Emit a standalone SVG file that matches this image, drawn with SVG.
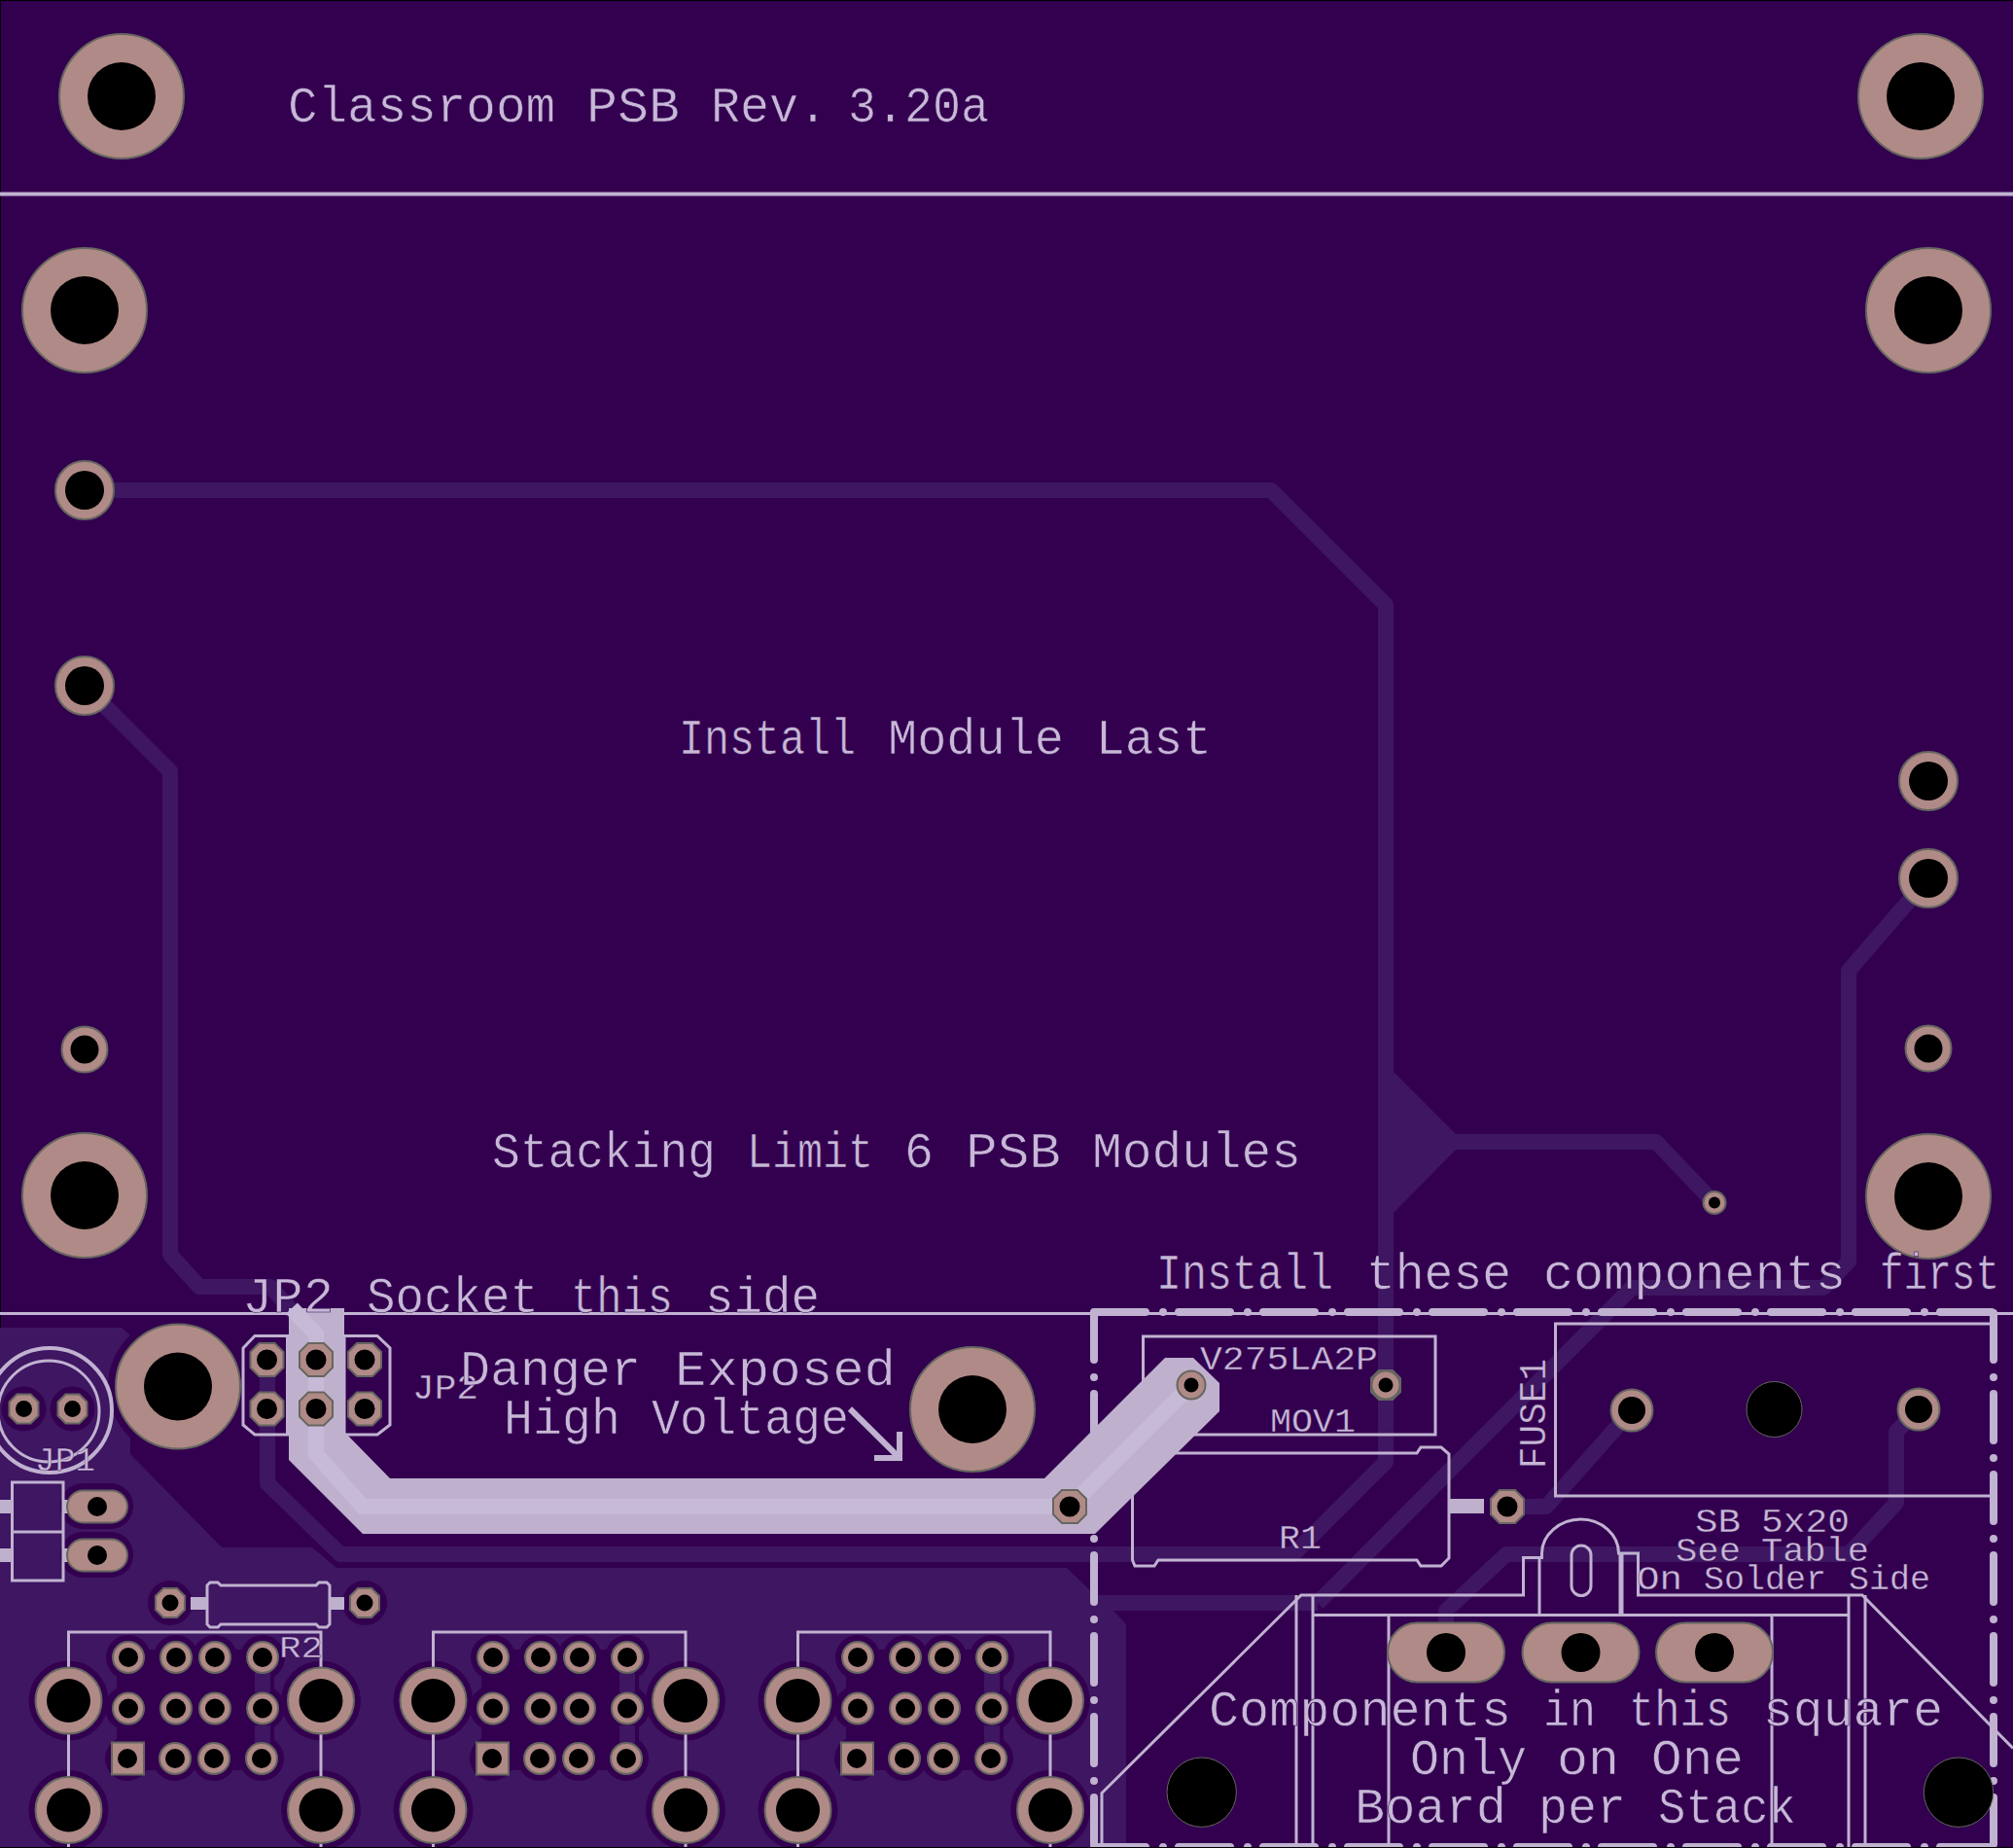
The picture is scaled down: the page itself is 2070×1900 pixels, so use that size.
<svg xmlns="http://www.w3.org/2000/svg" xmlns:xlink="http://www.w3.org/1999/xlink" width="2070" height="1900" viewBox="0 0 2070 1900">
<style>
.bg{fill:#330050}
.cu{fill:#3e1662}
.tr{fill:none;stroke:#3e1662;stroke-width:16;stroke-linejoin:round}
.halo{fill:#330050}
.sl{fill:none;stroke:#c0b2d0;stroke-width:3}
.sf{fill:#bfb1cd}
.pad{fill:#b08a86;stroke:#666660;stroke-width:2}
.hole{fill:#000}
.hr{fill:#000;stroke:#666660;stroke-width:1}
.t{font-family:"Liberation Mono",monospace;fill:#c6b8d6;stroke:#330050;stroke-width:.6}
.l{font-size:52px}
.s{font-size:35px;stroke-width:.3}
.dh{fill:none;stroke:#c0b2d0;stroke-width:8;stroke-linecap:round;stroke-dasharray:53 18 0 16}
.dv{fill:none;stroke:#c0b2d0;stroke-width:8;stroke-linecap:round;stroke-dasharray:48 18 0 17}
</style>
<defs>
<g id="bigpad"><circle r="64" class="pad"/><circle r="35" class="hole"/></g>
<g id="midpad"><circle r="30" class="pad"/><circle r="20" class="hole"/></g>
<g id="tinypad"><circle r="23.5" class="pad"/><circle r="14.5" class="hole"/></g>
<g id="octa"><polygon points="-17,-8 -8,-17 8,-17 17,-8 17,8 8,17 -8,17 -17,8" class="pad"/><circle r="10.5" class="hole"/></g>
<g id="octb"><polygon points="-15,-7 -7,-15 7,-15 15,-7 15,7 7,15 -7,15 -15,7" class="pad"/><circle r="8.5" class="hole"/></g>
<g id="pin"><circle r="16" class="pad"/><circle r="10" class="hole"/></g>
<g id="mount"><circle r="34" class="pad"/><circle r="22.5" class="hole"/></g>
<g id="oval"><rect x="-60" y="-30.5" width="120" height="61" rx="30.5" class="pad"/><circle r="20" class="hole"/></g>
<g id="oval2"><rect x="-31" y="-16.5" width="62" height="33" rx="16.5" class="pad"/><circle r="10" class="hole"/></g>
<g id="connector">
<rect x="120" y="1696" width="162" height="124" class="halo"/>
<g class="halo">
<circle cx="132" cy="1704" r="23"/><circle cx="181" cy="1704" r="23"/><circle cx="221" cy="1704" r="23"/><circle cx="270" cy="1704" r="23"/>
<circle cx="131" cy="1756" r="23"/><circle cx="270" cy="1756" r="23"/>
<circle cx="131" cy="1808" r="23"/><circle cx="180" cy="1808" r="23"/><circle cx="220" cy="1808" r="23"/><circle cx="269" cy="1808" r="23"/>
<circle cx="70.5" cy="1748.5" r="41"/><circle cx="330" cy="1748.5" r="41"/><circle cx="70.5" cy="1861" r="41"/><circle cx="330" cy="1861" r="41"/>
</g>
<rect x="262" y="1718" width="16" height="22" class="cu"/>
<rect x="262" y="1774" width="16" height="20" class="cu"/>
<polyline points="70.5,1900 70.5,1678 330,1678 330,1900" class="sl"/>
<use xlink:href="#mount" x="70.5" y="1748.5"/><use xlink:href="#mount" x="330" y="1748.5"/><use xlink:href="#mount" x="70.5" y="1861"/><use xlink:href="#mount" x="330" y="1861"/>
<use xlink:href="#pin" x="132" y="1704"/><use xlink:href="#pin" x="181" y="1704"/><use xlink:href="#pin" x="221" y="1704"/><use xlink:href="#pin" x="270" y="1704"/>
<use xlink:href="#pin" x="132" y="1756.5"/><use xlink:href="#pin" x="181" y="1756.5"/><use xlink:href="#pin" x="221" y="1756.5"/><use xlink:href="#pin" x="270" y="1756.5"/>
<rect x="115" y="1791.5" width="33" height="33" class="pad"/><circle cx="131" cy="1808" r="10" class="hole"/>
<use xlink:href="#pin" x="180" y="1808"/><use xlink:href="#pin" x="220" y="1808"/><use xlink:href="#pin" x="269" y="1808"/>
</g>
</defs>

<rect width="2070" height="1900" fill="#000"/>
<rect x="1" y="1" width="2069" height="1898" class="bg"/>

<g id="copper">
<polygon class="cu" points="0,1365 125,1365 134,1373 134,1495 228,1591 321,1591 346,1612 1097,1612 1126,1640 1355,1640 1355,1656 1145,1656 1158,1670 1158,1899 0,1899"/>
<polygon class="cu" points="1433,1102 1497,1166 1497,1182 1433,1247"/>
</g>

<g id="connectors">
<polyline class="tr" points="87,504 1307,504 1425,622 1425,1503 1330,1598 350,1598 275,1525 275,1398"/>
<polyline class="tr" points="87,705 175,793 175,1290 205,1323 278,1323 325,1375"/>
<polyline class="tr" points="1433,1174 1703,1174 1763,1237"/>
<polyline class="tr" points="1983,903 1901,998 1901,1297 1875,1324 1678,1324 1355,1648"/>
<polyline class="tr" points="1678,1450 1590,1549 1550,1549"/>
<polyline class="tr" points="1973,1449 1950,1472 1950,1545 1901,1598 1549,1598 1487,1656 1487,1699"/>
</g>

<g id="halos" class="halo">
<circle cx="183" cy="1425.5" r="72"/>
<circle cx="1000" cy="1449" r="70"/>
<circle cx="24.5" cy="1448.5" r="23"/><circle cx="74.5" cy="1448.5" r="23"/>
<rect x="62" y="1525" width="75" height="47" rx="23"/><rect x="62" y="1575" width="75" height="47" rx="23"/>
<circle cx="175" cy="1648" r="23"/><circle cx="375" cy="1648" r="23"/>
</g>

<g id="silk-lines">
<line x1="0" y1="199.5" x2="2070" y2="199.5" stroke="#c0b2d0" stroke-width="4"/>
<line x1="0" y1="1350.5" x2="2070" y2="1350.5" stroke="#c0b2d0" stroke-width="3"/>
<line x1="1125" y1="1349" x2="2050" y2="1349" class="dh"/>
<line x1="1125" y1="1899" x2="2050" y2="1899" class="dh"/>
<line x1="1125" y1="1350" x2="1125" y2="1900" class="dv"/>
<line x1="2050" y1="1350" x2="2050" y2="1900" class="dv"/>
</g>

<g id="connector-1"><use xlink:href="#connector"/></g>
<g id="connector-2"><use xlink:href="#connector" x="375"/></g>
<g id="connector-3"><use xlink:href="#connector" x="750"/></g>

<g id="JP1">
<circle cx="51" cy="1450" r="64" class="sl" style="stroke-width:4"/>
<circle cx="50" cy="1451" r="52" class="sl"/>
<use xlink:href="#octb" x="24.5" y="1448.5"/><use xlink:href="#octb" x="74.5" y="1448.5"/>
<text x="36" y="1512" class="t s" textLength="62" lengthAdjust="spacingAndGlyphs">JP1</text>
</g>

<g id="switch">
<rect x="12.5" y="1524" width="52.5" height="101" class="sl"/>
<line x1="12.5" y1="1575" x2="65" y2="1575" class="sl"/>
<rect x="0" y="1542" width="12.5" height="14" class="sf"/><rect x="0" y="1592" width="12.5" height="14" class="sf"/>
<rect x="65" y="1542" width="5" height="14" class="sf"/><rect x="65" y="1592" width="5" height="14" class="sf"/>
<use xlink:href="#oval2" x="100" y="1549"/><use xlink:href="#oval2" x="100" y="1599"/>
</g>

<g id="R2">
<polygon points="216,1627 224,1627 227,1630 325,1630 328,1627 336,1627 339,1630 339,1670 336,1673 328,1673 325,1670 227,1670 224,1673 216,1673 213,1670 213,1630" class="sl"/>
<rect x="196" y="1642" width="17" height="13" class="sf"/><rect x="339" y="1642" width="15" height="13" class="sf"/>
<use xlink:href="#octb" x="175" y="1648"/><use xlink:href="#octb" x="375" y="1648"/>
<text x="287" y="1704" class="t s" style="font-size:32px" textLength="45" lengthAdjust="spacingAndGlyphs">R2</text>
</g>

<g id="MOV1">
<rect x="1175.5" y="1374" width="300.5" height="101" class="sl"/>
<text x="1234" y="1408" class="t s" textLength="183" lengthAdjust="spacingAndGlyphs">V275LA2P</text>
<text x="1306" y="1472" class="t s" textLength="88" lengthAdjust="spacingAndGlyphs">MOV1</text>
<use xlink:href="#octb" x="1425" y="1424"/>
</g>

<g id="R1">
<polyline points="1164.5,1530 1164.5,1604 1167,1610 1187,1610 1191,1604 1457,1604 1461,1610 1482,1610 1490,1602 1490,1495 1482,1488 1461,1488 1457,1494 1200,1494" class="sl"/>
<rect x="1490" y="1541" width="36" height="15" class="sf"/>
<text x="1315" y="1592" class="t s" textLength="44" lengthAdjust="spacingAndGlyphs">R1</text>
</g>

<g id="high-voltage-bar">
<polygon class="sf" points="297,1345 354,1345 354,1472 401,1520 1074,1520 1198,1396 1227,1396 1254,1422 1254,1451 1126,1577 373,1577 297,1501"/>
<polyline points="300,1345 325,1372 325,1495 373,1549 1100,1549 1225,1424" fill="none" stroke="#c6bad6" stroke-width="16"/>
</g>

<g id="JP2">
<polygon points="262,1373.5 295.5,1373.5 295.5,1475 262,1475 250,1465 250,1386" class="sl"/>
<polygon points="354,1373.5 388,1373.5 401,1386 401,1465 388,1475 354,1475" class="sl"/>
<use xlink:href="#octa" x="274.5" y="1398"/><use xlink:href="#octa" x="274.5" y="1448.5"/>
<use xlink:href="#octa" x="325" y="1398"/><use xlink:href="#octa" x="325" y="1448.5"/>
<use xlink:href="#octa" x="375" y="1398"/><use xlink:href="#octa" x="375" y="1448.5"/>
<text x="424" y="1438" class="t s" style="font-size:36px" textLength="68" lengthAdjust="spacingAndGlyphs">JP2</text>
</g>

<g id="vias">
<use xlink:href="#octa" x="1100" y="1549"/>
<use xlink:href="#octa" x="1550" y="1549"/>
<circle cx="1225" cy="1424" r="14.5" class="pad"/><circle cx="1225" cy="1424" r="7.5" class="hole"/>
<circle cx="1425" cy="1424" r="14.5" class="pad"/><circle cx="1425" cy="1424" r="7.5" class="hole"/>
<circle cx="1763" cy="1236.5" r="11.5" class="pad"/><circle cx="1763" cy="1236.5" r="6" class="hole"/>
</g>

<g id="mount-holes">
<use xlink:href="#bigpad" x="125" y="99"/>
<use xlink:href="#bigpad" x="1975" y="99"/>
<use xlink:href="#bigpad" x="87" y="319"/>
<use xlink:href="#bigpad" x="1983" y="319"/>
<use xlink:href="#bigpad" x="87" y="1229"/>
<use xlink:href="#bigpad" x="1983" y="1230"/>
<use xlink:href="#bigpad" x="183" y="1425.5"/>
<use xlink:href="#bigpad" x="1000" y="1449"/>
</g>

<g id="header-pads">
<use xlink:href="#midpad" x="87" y="504"/>
<use xlink:href="#midpad" x="87" y="705"/>
<use xlink:href="#tinypad" x="87" y="1079"/>
<use xlink:href="#midpad" x="1983" y="803"/>
<use xlink:href="#midpad" x="1983" y="903"/>
<use xlink:href="#tinypad" x="1983" y="1078"/>
</g>

<g id="FUSE1">
<polyline points="2050,1361 1599.5,1361 1599.5,1538 2050,1538" class="sl"/>
<circle cx="1678" cy="1450" r="21.5" class="pad"/><circle cx="1678" cy="1450" r="14" class="hole"/>
<circle cx="1973" cy="1449" r="21.5" class="pad"/><circle cx="1973" cy="1449" r="14" class="hole"/>
<circle cx="1824.5" cy="1449" r="28.5" class="hr"/>
<text transform="translate(1589,1510) rotate(-90)" class="t s" style="font-size:38px" textLength="113" lengthAdjust="spacingAndGlyphs">FUSE1</text>
</g>

<g id="socket">
<path d="M1133,1900 V1843.5 L1338,1640 H1566.5 V1601.5 H1585.5 V1597 C1585.5,1578 1604,1562 1625.5,1562 C1647,1562 1664.5,1578 1664.5,1597 H1684.5 V1640 H1915 L2070,1797.5" class="sl"/>
<line x1="1333" y1="1640" x2="1333" y2="1900" class="sl"/>
<path d="M1350,1900 V1640 M1350,1660.5 H1901 M1428,1660.5 V1900 M1822,1660.5 V1900 M1901,1640 V1900 M1918,1640 V1900 M1583,1601 V1660" class="sl"/>
<line x1="1667" y1="1596" x2="1667" y2="1660" stroke="#c0b2d0" stroke-width="5"/>
<rect x="1616" y="1589" width="20" height="51.5" rx="10" class="sl"/>
<use xlink:href="#oval" x="1487" y="1699"/><use xlink:href="#oval" x="1625.5" y="1699"/><use xlink:href="#oval" x="1763" y="1699"/>
<circle cx="1235.7" cy="1842.7" r="35.7" class="hr"/>
<circle cx="2014" cy="1842.7" r="35.7" class="hr"/>
</g>

<g id="arrow" fill="none" stroke="#c0b2d0" stroke-width="6">
<polyline points="874,1448.5 925,1499"/>
<polyline points="925,1472 925,1499 899,1499"/>
</g>

<g id="labels">
<text y="125" class="t l"><tspan x="296" textLength="275" lengthAdjust="spacingAndGlyphs">Classroom</tspan> <tspan x="603" textLength="96" lengthAdjust="spacingAndGlyphs">PSB</tspan> <tspan x="731" textLength="120" lengthAdjust="spacingAndGlyphs">Rev.</tspan> <tspan x="872" textLength="145" lengthAdjust="spacingAndGlyphs">3.20a</tspan></text>
<text y="775" class="t l"><tspan x="698" textLength="182" lengthAdjust="spacingAndGlyphs">Install</tspan> <tspan x="913" textLength="181" lengthAdjust="spacingAndGlyphs">Module</tspan> <tspan x="1127" textLength="119" lengthAdjust="spacingAndGlyphs">Last</tspan></text>
<text y="1200" class="t l"><tspan x="506" textLength="230" lengthAdjust="spacingAndGlyphs">Stacking</tspan> <tspan x="768" textLength="130" lengthAdjust="spacingAndGlyphs">Limit</tspan> <tspan x="930" textLength="30" lengthAdjust="spacingAndGlyphs">6</tspan> <tspan x="993" textLength="98" lengthAdjust="spacingAndGlyphs">PSB</tspan> <tspan x="1123" textLength="215" lengthAdjust="spacingAndGlyphs">Modules</tspan></text>
<text y="1325" class="t l"><tspan x="1189" textLength="182" lengthAdjust="spacingAndGlyphs">Install</tspan> <tspan x="1405" textLength="149" lengthAdjust="spacingAndGlyphs">these</tspan> <tspan x="1587" textLength="311" lengthAdjust="spacingAndGlyphs">components</tspan> <tspan x="1933" textLength="123" lengthAdjust="spacingAndGlyphs">first</tspan></text>
<text y="1349" class="t l"><tspan x="249" textLength="94" lengthAdjust="spacingAndGlyphs">JP2</tspan> <tspan x="377" textLength="177" lengthAdjust="spacingAndGlyphs">Socket</tspan> <tspan x="587" textLength="105" lengthAdjust="spacingAndGlyphs">this</tspan> <tspan x="725" textLength="118" lengthAdjust="spacingAndGlyphs">side</tspan></text>
<text y="1424" class="t l"><tspan x="473" textLength="186" lengthAdjust="spacingAndGlyphs">Danger</tspan> <tspan x="694" textLength="227" lengthAdjust="spacingAndGlyphs">Exposed</tspan></text>
<text y="1474" class="t l"><tspan x="518" textLength="120" lengthAdjust="spacingAndGlyphs">High</tspan> <tspan x="670" textLength="203" lengthAdjust="spacingAndGlyphs">Voltage</tspan></text>
<text y="1575" class="t s"><tspan x="1743" textLength="47" lengthAdjust="spacingAndGlyphs">SB</tspan> <tspan x="1811" textLength="91" lengthAdjust="spacingAndGlyphs">5x20</tspan></text>
<text y="1605" class="t s"><tspan x="1723" textLength="67" lengthAdjust="spacingAndGlyphs">See</tspan> <tspan x="1811" textLength="111" lengthAdjust="spacingAndGlyphs">Table</tspan></text>
<text y="1634" class="t s"><tspan x="1683" textLength="47" lengthAdjust="spacingAndGlyphs">On</tspan> <tspan x="1752" textLength="126" lengthAdjust="spacingAndGlyphs">Solder</tspan> <tspan x="1901" textLength="84" lengthAdjust="spacingAndGlyphs">Side</tspan></text>
<text y="1774" class="t l"><tspan x="1243" textLength="311" lengthAdjust="spacingAndGlyphs">Components</tspan> <tspan x="1587" textLength="54" lengthAdjust="spacingAndGlyphs">in</tspan> <tspan x="1675" textLength="105" lengthAdjust="spacingAndGlyphs">this</tspan> <tspan x="1813" textLength="185" lengthAdjust="spacingAndGlyphs">square</tspan></text>
<text y="1824" class="t l"><tspan x="1450" textLength="120" lengthAdjust="spacingAndGlyphs">Only</tspan> <tspan x="1601" textLength="64" lengthAdjust="spacingAndGlyphs">on</tspan> <tspan x="1698" textLength="95" lengthAdjust="spacingAndGlyphs">One</tspan></text>
<text y="1874" class="t l"><tspan x="1393" textLength="156" lengthAdjust="spacingAndGlyphs">Board</tspan> <tspan x="1582" textLength="90" lengthAdjust="spacingAndGlyphs">per</tspan> <tspan x="1705" textLength="142" lengthAdjust="spacingAndGlyphs">Stack</tspan></text>
</g>
<rect x="0" y="1899" width="2070" height="1" fill="#000"/>
</svg>
